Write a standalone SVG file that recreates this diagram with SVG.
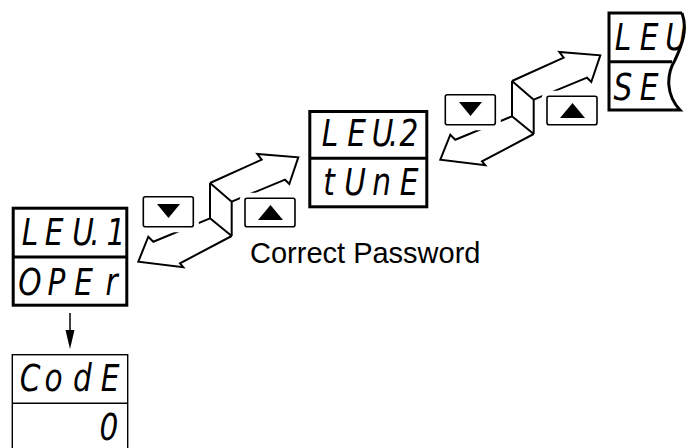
<svg xmlns="http://www.w3.org/2000/svg" width="686" height="448" viewBox="0 0 686 448">
<style>
.disp{fill:none;stroke:#000;stroke-width:3}
.thin{fill:none;stroke:#000;stroke-width:1.4}
.seg{font-family:"DejaVu Sans",sans-serif;font-style:italic;font-size:37px;fill:#000;text-anchor:middle}
.arr{fill:none;stroke:#000;stroke-width:2;stroke-linejoin:miter}
.halo{fill:#fff;stroke:#fff;stroke-width:11}
.btn{fill:#fff;stroke:#000;stroke-width:1.6}
.lbl{font-family:"Liberation Sans",Arial,sans-serif;font-size:29px;fill:#000}
</style>
<defs>
<g id="stepArrow">
<path class="arr" d="M210,183 L261.7,159.7 L257.3,154 L298.3,157.3 L289.3,184 L285,179.7 L231.7,201.7"/>
<path class="arr" d="M210,183 L231.7,201.7 M210,183 L210,218.3 M231.7,201.7 L231.7,236 M210,218.3 L231.7,236"/>
<path class="arr" d="M210,218.3 L153.3,241.7 L148.3,236.7 L138.3,261.7 L183.3,267.3 L180,263.3 L231.7,236"/>
<rect class="halo" x="143.3" y="196.7" width="50" height="30" rx="2"/>
<rect class="halo" x="245" y="198.3" width="50" height="28.4" rx="2"/>
<rect class="btn" x="143.3" y="196.7" width="50" height="30" rx="2"/>
<polygon points="157,204 180,204 168.5,218" fill="#000"/>
<rect class="btn" x="245" y="198.3" width="50" height="28.4" rx="2"/>
<polygon points="258,220 283,220 270.5,205" fill="#000"/>
</g>
<clipPath id="clip3">
<path d="M609,13 L682,13 C688,30 682,45 675,60 C666,75 666,95 680,110 L609,110 Z"/>
</clipPath>
</defs>

<g id="connectors">
<use href="#stepArrow"/>
<use href="#stepArrow" transform="translate(302,-102)"/>
<line x1="70" y1="313" x2="70" y2="331" stroke="#000" stroke-width="1.5"/>
<polygon points="65.5,330 74.5,330 70,349" fill="#000"/>
</g>

<g id="lev1">
<rect class="disp" x="13.2" y="208.2" width="113.6" height="97"/>
<line class="disp" x1="13" y1="257" x2="127" y2="257"/>
<text class="seg" transform="scale(0.8,1)" y="245" x="37.5 67.5 103.75 118.75 145">LEU.1</text>
<text class="seg" transform="scale(0.8,1)" y="295" x="37.5 70.6 104.4 139.4">OPEr</text>
</g>

<g id="lev2">
<rect class="disp" x="309.8" y="111.5" width="117" height="95.3"/>
<line class="disp" x1="309" y1="158.3" x2="427" y2="158.3"/>
<text class="seg" transform="scale(0.8,1)" y="146.5" x="412.5 445.6 478.1 491.9 511.25">LEU.2</text>
<text class="seg" transform="scale(0.8,1)" y="195" x="411.25 443.75 476.9 511.25">tUnE</text>
</g>

<g id="lev3">
<g clip-path="url(#clip3)">
<text class="seg" transform="scale(0.8,1)" y="50" x="778.75 811.25 845">LEU</text>
<text class="seg" transform="scale(0.8,1)" y="100" x="778.75 811.25">SE</text>
</g>
<path class="disp" d="M682,13 L609,13 L609,110 L680,110 C666,95 666,75 675,60 C682,45 688,30 682,13"/>
<line class="disp" x1="609" y1="61.7" x2="672" y2="61.7"/>
</g>

<g id="code">
<rect class="thin" x="12.3" y="354.7" width="115.4" height="110"/>
<line class="thin" x1="12" y1="403.3" x2="128" y2="403.3"/>
<text class="seg" transform="scale(0.8,1)" y="391.5" x="37.5 66.9 103.1 137.5">CodE</text>
<text class="seg" transform="scale(0.8,1)" y="440" x="136.25">0</text>
</g>

<g id="label">
<text class="lbl" x="250" y="263">Correct Password</text>
</g>
</svg>
